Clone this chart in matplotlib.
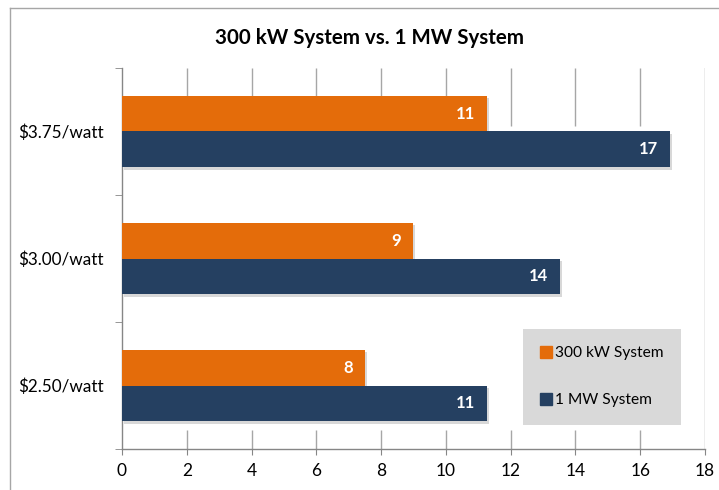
import matplotlib
matplotlib.use("Agg")
import matplotlib.pyplot as plt
import matplotlib.patheffects as pe
from matplotlib.lines import Line2D

plt.rcParams['font.family'] = ['Lato', 'DejaVu Sans']

categories = ["$2.50/watt", "$3.00/watt", "$3.75/watt"]
kw300 = [7.5, 8.98, 11.27]
mw1 = [11.27, 13.52, 16.92]
series_names = ["300 kW System", "1 MW System"]
colors = ["#E46C0A", "#254061"]
xticks = [0, 2, 4, 6, 8, 10, 12, 14, 16, 18]

W, H = 719, 490
fig = plt.figure(figsize=(W / 100, H / 100), dpi=100)
ax = fig.add_axes([122 / W, 1 - 449 / H, 583 / W, 381 / H])

bar_h = 0.283
ypos = list(range(len(categories)))
shadow = [pe.SimplePatchShadow(offset=(1.5, -1.5), shadow_rgbFace="#909090", alpha=0.35), pe.Normal()]

bars_a = ax.barh([y + bar_h / 2 for y in ypos], kw300, height=bar_h,
                 color=colors[0], label=series_names[0], zorder=3)
bars_b = ax.barh([y - bar_h / 2 for y in ypos], mw1, height=bar_h,
                 color=colors[1], label=series_names[1], zorder=3)
for b in list(bars_a) + list(bars_b):
    b.set_path_effects(shadow)

for bars, vals in ((bars_a, kw300), (bars_b, mw1)):
    for b, v in zip(bars, vals):
        ax.annotate(f"{v:.0f}", (v, b.get_y() + b.get_height() / 2),
                    xytext=(-8.5, 0), textcoords="offset points",
                    ha="right", va="center", color="white",
                    fontsize=12, fontweight="bold", zorder=5)

ax.set_xlim(0, 18)
ax.set_ylim(-0.5, 2.5)

# vertical grid: visible above the top group and below the bottom group
grid_c = "#A6A6A6"
for x in xticks[1:-1]:
    ax.plot([x, x], [2.5, 2.04], color=grid_c, lw=1, zorder=1, solid_capstyle="butt")
    ax.plot([x, x], [-0.5, -0.35], color=grid_c, lw=1, zorder=1, solid_capstyle="butt")
ax.plot([18, 18], [-0.5, 2.5], color=grid_c, lw=1, zorder=1)

for s in ("top", "right"):
    ax.spines[s].set_visible(False)
for s in ("left", "bottom"):
    ax.spines[s].set_color("#868686")
    ax.spines[s].set_linewidth(1)

ax.set_xticks(xticks)
ax.set_xticklabels([str(t) for t in xticks], fontsize=12.5)
ax.tick_params(axis="x", direction="out", length=4, color="#868686", pad=6)

ax.set_yticks(ypos)
ax.set_yticklabels(categories, fontsize=12.3)
ax.tick_params(axis="y", which="major", length=0, pad=13)
ax.set_yticks([-0.5, 0.5, 1.5, 2.5], minor=True)
ax.tick_params(axis="y", which="minor", direction="out", length=5, color="#868686")

ax.set_title("300 kW System vs. 1 MW System", fontsize=14.8, fontweight="bold",
             pad=0, va="bottom", x=0.425, y=1 + 20 / 381)

leg = ax.legend(handles=[
    Line2D([], [], marker="s", ls="none", color=colors[0], markersize=8, label=series_names[0]),
    Line2D([], [], marker="s", ls="none", color=colors[1], markersize=8, label=series_names[1]),
], loc="lower left", bbox_to_anchor=((523 - 122) / 583, (449 - 425) / 381),
    frameon=True, fontsize=11.2, labelspacing=2.1, borderpad=1.15,
    handlelength=0.6, handletextpad=0.3, borderaxespad=0, fancybox=False)
leg.get_frame().set_facecolor("#D9D9D9")
leg.get_frame().set_edgecolor("none")
leg.get_frame().set_alpha(1)

# outer chart frame
border = "#A6A6A6"
fig.add_artist(Line2D([10 / W, 1], [1 - 8 / H, 1 - 8 / H], color=border, lw=1))
fig.add_artist(Line2D([10 / W, 10 / W], [0, 1 - 8 / H], color=border, lw=1))

fig.savefig("out.png", dpi=100)
